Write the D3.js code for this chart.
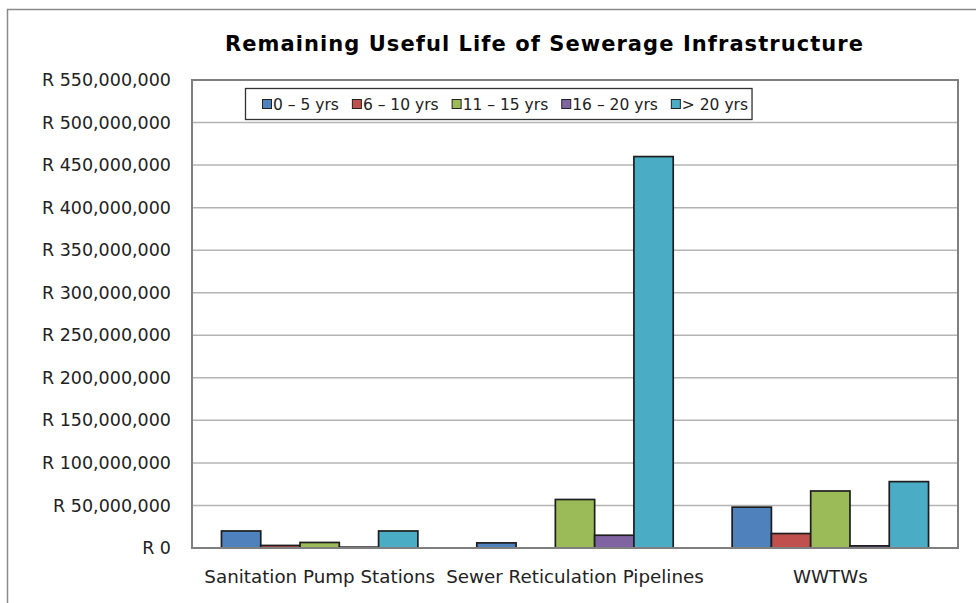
<!DOCTYPE html>
<html lang="en">
<head>
<meta charset="UTF-8">
<title>Remaining Useful Life of Sewerage Infrastructure</title>
<style>
  body { margin: 0; background: #fff; }
  svg { display: block; }
</style>
</head>
<body>
<svg width="976" height="603" id="viz"></svg>
<script src="https://d3js.org/d3.v7.min.js"></script>
<script>
// chart data
const categories = ["Sanitation Pump Stations", "Sewer Reticulation Pipelines", "WWTWs"];
const seriesNames = ["0 \u2013 5 yrs", "6 \u2013 10 yrs", "11 \u2013 15 yrs", "16 \u2013 20 yrs", "> 20 yrs"];
const yrs0to5   = [20000000, 6000000, 48000000];
const yrs6to10  = [3000000, 0, 17000000];
const yrs11to15 = [6500000, 57000000, 67000000];
const yrs16to20 = [1000000, 15000000, 2500000];
const yrsOver20 = [20000000, 460000000, 78000000];
const yTicks = [0, 50000000, 100000000, 150000000, 200000000, 250000000, 300000000,
                350000000, 400000000, 450000000, 500000000, 550000000];
const colors = ["#4F81BD", "#C0504D", "#9BBB59", "#8064A2", "#4BACC6"];

const seriesValues = [yrs0to5, yrs6to10, yrs11to15, yrs16to20, yrsOver20];

const svg = d3.select("#viz");
const margin = {top: 80, right: 18, bottom: 55, left: 192};
const width = 976 - margin.left - margin.right,
      height = 603 - margin.top - margin.bottom;

// outer chart border (runs off the right and bottom of the picture)
svg.append("rect")
  .attr("x", 7.5).attr("y", 9.5)
  .attr("width", 1000).attr("height", 700)
  .attr("fill", "none")
  .attr("stroke", "#8a8a8a")
  .attr("stroke-width", 1.5);

svg.append("text")
  .attr("x", 544).attr("y", 51)
  .attr("text-anchor", "middle")
  .attr("textLength", 638)
  .attr("lengthAdjust", "spacing")
  .style("font-family", "'DejaVu Sans', sans-serif")
  .style("font-weight", "bold")
  .style("font-size", "21px")
  .style("fill", "#000")
  .text("Remaining Useful Life of Sewerage Infrastructure");

const g = svg.append("g").attr("transform", `translate(${margin.left},${margin.top})`);

const x0 = d3.scaleBand().domain(categories).range([0, width]);
const bw = x0.bandwidth();
// Excel style gap width 150%
const x1 = d3.scaleBand().domain(d3.range(seriesNames.length))
  .range([bw * 0.75 / 6.5, bw - bw * 0.75 / 6.5]);

const y = d3.scaleLinear().domain([0, 550000000]).range([height, 0]);

// gridlines
g.selectAll(".grid")
  .data(yTicks.slice(1))
  .enter().append("line")
    .attr("class", "grid")
    .attr("x1", 0).attr("x2", width)
    .attr("y1", d => y(d)).attr("y2", d => y(d))
    .attr("stroke", "#b4b4b4")
    .attr("stroke-width", 1.5);

// y axis labels
const yAxis = d3.axisLeft(y)
  .tickValues(yTicks)
  .tickSize(0)
  .tickPadding(21)
  .tickFormat(d => "R " + d3.format(",")(d));
g.append("g").call(yAxis)
  .call(a => a.select(".domain").remove())
  .selectAll("text")
    .style("font-family", "'DejaVu Sans', sans-serif")
    .style("font-size", "17.5px")
    .style("fill", "#222");

// x axis labels
const xAxis = d3.axisBottom(x0).tickSize(0).tickPadding(22);
g.append("g").attr("transform", `translate(0,${height})`).call(xAxis)
  .call(a => a.select(".domain").remove())
  .selectAll("text")
    .style("font-family", "'DejaVu Sans', sans-serif")
    .style("font-size", "18.3px")
    .style("fill", "#222");

// bars
const groups = g.selectAll(".cat")
  .data(categories)
  .enter().append("g")
    .attr("class", "cat")
    .attr("transform", d => `translate(${x0(d)},0)`);

groups.selectAll("rect")
  .data((d, ci) => seriesValues.map((vals, si) => ({si: si, v: vals[ci]})))
  .enter().append("rect")
    .attr("x", d => x1(d.si))
    .attr("y", d => y(d.v))
    .attr("width", x1.bandwidth())
    .attr("height", d => height - y(d.v))
    .attr("fill", d => colors[d.si])
    .attr("stroke", d => d.v > 0 ? "#1e1e1e" : "none")
    .attr("stroke-width", 1.7);

// plot area border
g.append("rect")
  .attr("x", 0).attr("y", 0)
  .attr("width", width).attr("height", height)
  .attr("fill", "none")
  .attr("stroke", "#7f7f7f")
  .attr("stroke-width", 2);

// legend
const legend = svg.append("g");
const legBox = legend.append("rect")
  .attr("x", 245.5).attr("y", 88.5)
  .attr("height", 31)
  .attr("fill", "#fff")
  .attr("stroke", "#333")
  .attr("stroke-width", 1.3);

let lx = 262;
seriesNames.forEach((name, i) => {
  legend.append("rect")
    .attr("x", lx + 0.5).attr("y", 99.5)
    .attr("width", 9).attr("height", 9)
    .attr("fill", colors[i])
    .attr("stroke", "#222")
    .attr("stroke-width", 1);
  const t = legend.append("text")
    .attr("x", lx + 11).attr("y", 110)
    .style("font-family", "'DejaVu Sans', sans-serif")
    .style("font-size", "15.5px")
    .style("fill", "#222")
    .text(name);
  lx += 11 + t.node().getComputedTextLength() + 13;
});
legBox.attr("width", lx - 13 + 4 - 245.5);
</script>
</body>
</html>
